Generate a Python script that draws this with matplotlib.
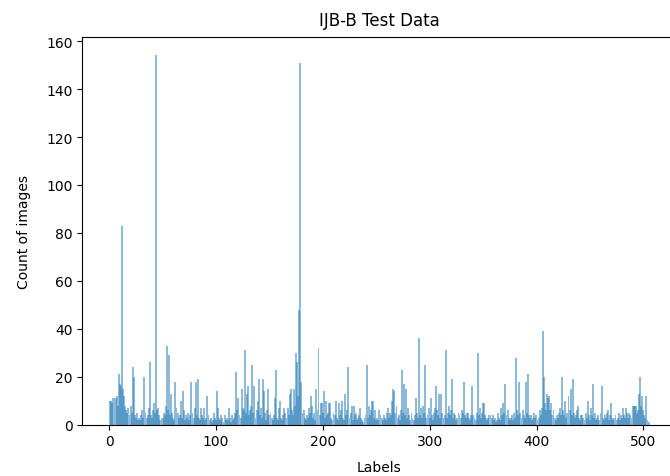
import numpy as np
import matplotlib
matplotlib.use("Agg")
import matplotlib.pyplot as plt

# image count per label (labels 0..504)
counts = [
    10, 10, 9, 11, 11, 11, 12, 8, 21, 17,
    16, 83, 15, 12, 8, 6, 5, 7, 4, 8,
    5, 24, 20, 4, 3, 5, 2, 3, 2, 4,
    6, 3, 20, 5, 3, 4, 7, 26, 4, 3,
    6, 9, 5, 154, 6, 7, 4, 2, 3, 3,
    5, 4, 8, 33, 6, 29, 4, 13, 5, 3,
    2, 18, 7, 5, 3, 4, 10, 3, 14, 6,
    2, 4, 3, 5, 2, 4, 18, 5, 3, 7,
    18, 4, 19, 3, 2, 7, 4, 3, 7, 2,
    3, 12, 4, 2, 3, 1, 2, 5, 3, 2,
    14, 7, 3, 2, 4, 3, 1, 4, 2, 3,
    2, 7, 3, 1, 4, 2, 3, 5, 22, 6,
    11, 4, 3, 15, 7, 6, 31, 5, 13, 16,
    4, 6, 8, 25, 5, 16, 3, 6, 10, 19,
    4, 7, 3, 19, 14, 5, 2, 6, 15, 4,
    5, 3, 2, 4, 11, 23, 3, 2, 7, 10,
    3, 2, 4, 7, 5, 3, 7, 4, 13, 15,
    6, 4, 15, 8, 30, 26, 12, 48, 151, 18,
    5, 6, 3, 2, 4, 3, 7, 5, 12, 8,
    3, 5, 2, 15, 6, 32, 4, 9, 9, 5,
    14, 3, 10, 4, 5, 9, 9, 3, 2, 5,
    4, 10, 3, 2, 9, 4, 6, 10, 3, 2,
    13, 4, 6, 24, 3, 5, 8, 2, 8, 4,
    5, 2, 3, 4, 7, 3, 2, 1, 3, 4,
    25, 3, 8, 4, 6, 10, 10, 3, 6, 2,
    3, 2, 6, 4, 3, 2, 4, 3, 2, 5,
    7, 3, 5, 4, 10, 15, 14, 5, 8, 3,
    4, 2, 6, 23, 5, 17, 4, 15, 3, 7,
    4, 2, 5, 3, 2, 4, 11, 5, 3, 36,
    4, 7, 3, 8, 5, 25, 3, 4, 7, 3,
    11, 4, 2, 5, 7, 16, 6, 4, 13, 3,
    13, 5, 3, 4, 31, 3, 5, 8, 4, 6,
    19, 3, 5, 4, 2, 3, 5, 4, 3, 6,
    5, 18, 4, 3, 5, 5, 3, 2, 4, 16,
    4, 3, 2, 5, 30, 4, 7, 3, 5, 9,
    9, 4, 3, 2, 3, 4, 4, 3, 4, 2,
    3, 1, 2, 5, 3, 2, 7, 4, 9, 5,
    17, 4, 6, 3, 2, 3, 4, 2, 5, 3,
    28, 6, 4, 18, 5, 3, 6, 4, 3, 18,
    5, 21, 4, 3, 4, 2, 3, 5, 3, 4,
    2, 3, 6, 4, 7, 39, 20, 9, 6, 13,
    11, 12, 6, 9, 4, 6, 3, 2, 4, 3,
    5, 7, 4, 20, 6, 4, 10, 3, 5, 12,
    6, 15, 4, 19, 5, 3, 4, 6, 8, 3,
    2, 4, 4, 3, 2, 5, 3, 10, 4, 2,
    7, 4, 17, 3, 5, 2, 3, 4, 2, 5,
    16, 3, 2, 4, 3, 5, 6, 2, 4, 9,
    3, 2, 3, 4, 2, 3, 5, 2, 4, 3,
    7, 4, 3, 7, 5, 3, 5, 4, 3, 8,
    8, 8, 8, 5, 6, 13, 20, 8, 12, 6,
    4, 3, 12, 2, 1,
]
labels = np.arange(len(counts))

fig = plt.figure(figsize=(6.7, 4.77), dpi=100)
# axes runs past the right edge, the reference is cropped there
ax = fig.add_axes([0.1228, 0.1075, 0.887, 0.8128])
# bars ~2px wide so neighbours overlap and darken like the reference
ax.bar(labels, counts, width=1.8, align='edge', color='C0', alpha=0.5)
ax.set_title('IJB-B Test Data', fontsize=12, pad=9)
ax.set_xlabel('Labels', labelpad=8)
ax.set_ylabel('Count of images', labelpad=11)

fig.savefig('out.png', dpi=100)
